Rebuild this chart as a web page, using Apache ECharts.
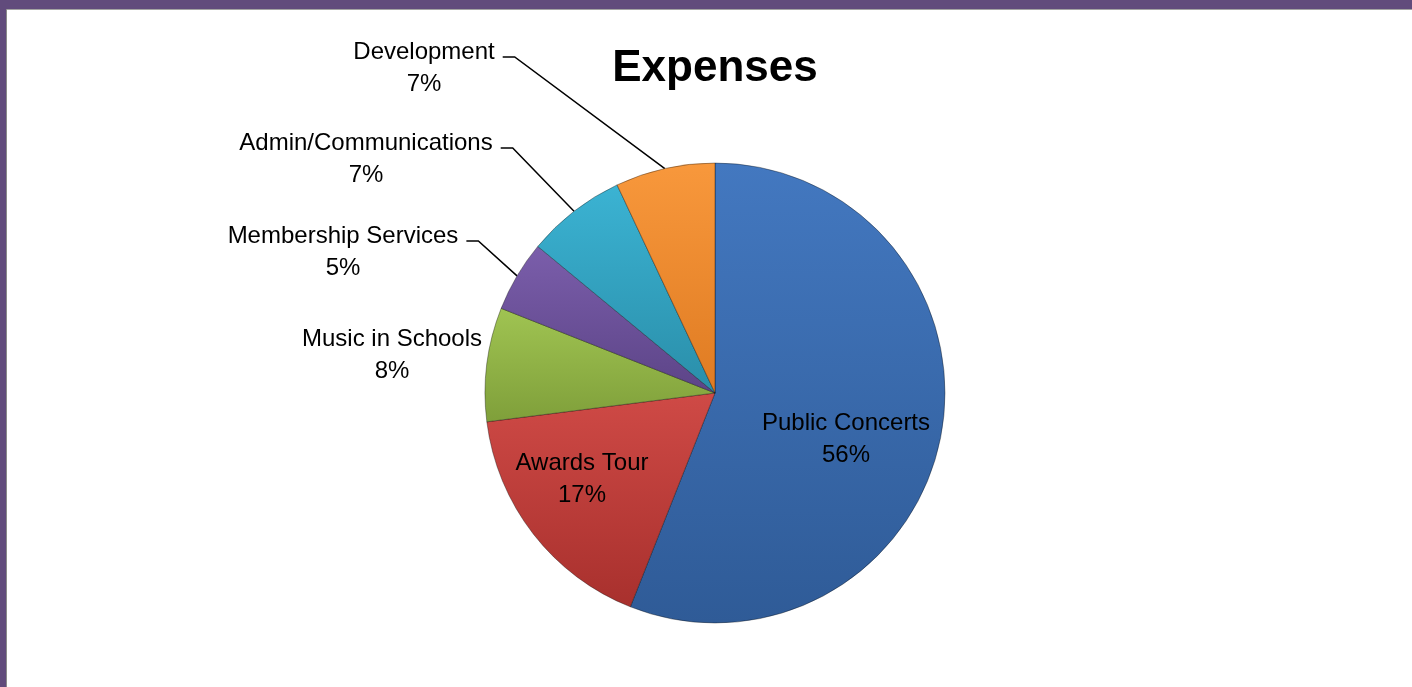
<!DOCTYPE html>
<html><head><meta charset="utf-8">
<script src="https://cdn.jsdelivr.net/npm/echarts@6.0.0/dist/echarts.min.js"></script>
<style>
html,body{margin:0;padding:0;background:#fff;overflow:hidden;}
#chart{position:absolute;left:0;top:0;width:1412px;height:687px;}
.b{position:absolute;pointer-events:none;}
</style></head><body>
<div id="chart"></div>
<div class="b" style="left:0;top:0;width:1412px;height:9px;background:#614b7c"></div>
<div class="b" style="left:6px;top:9px;width:1406px;height:1px;background:#a3a3a3"></div>
<div class="b" style="left:0;top:0;width:6px;height:687px;background:#614b7c"></div>
<div class="b" style="left:6px;top:9px;width:1px;height:678px;background:#8a8a8a"></div>
<script>
// ---- data ----
const categories = ['Public Concerts', 'Awards Tour', 'Music in Schools', 'Membership Services', 'Admin/Communications', 'Development'];
const values = [56, 17, 8, 5, 7, 7];
const titleText = 'Expenses';

// ---- styling / label placement ----
const colorPairs = [
  ['#4378c0', '#2f5b97'],
  ['#cf4a46', '#a8302d'],
  ['#a0c452', '#7f9f3a'],
  ['#7b5eab', '#5c4487'],
  ['#3bb3d3', '#2a8ea9'],
  ['#f8983c', '#df7b22']
];
const labelCenters = [[846, 439], [582, 479], [392, 355], [343, 252], [366, 159], [424, 68]];
const labelPlacement = ['inside', 'inside', 'outside', 'outside', 'outside', 'outside'];
const withLeader = [false, false, false, true, true, true];

function grad(i) {
  const c = colorPairs[i];
  return { type: 'linear', x: 0, y: 0, x2: 0, y2: 1,
    colorStops: [{ offset: 0, color: c[0] }, { offset: 1, color: c[1] }] };
}

const chart = echarts.init(document.getElementById('chart'));
chart.setOption({
  animation: false,
  backgroundColor: '#ffffff',
  title: {
    text: titleText, left: 710, top: 42, textAlign: 'center',
    textStyle: { fontFamily: 'Liberation Sans', fontWeight: 'bold', fontSize: 44, color: '#000' }
  },
  series: [{
    type: 'pie',
    center: [715, 393],
    radius: 230,
    startAngle: 90,
    clockwise: true,
    avoidLabelOverlap: false,
    percentPrecision: 0,
    itemStyle: { borderColor: 'rgba(0,0,0,0.35)', borderWidth: 1 },
    label: {
      formatter: '{b}\n{d}%', fontFamily: 'Liberation Sans', fontSize: 24,
      lineHeight: 32, color: '#000'
    },
    labelLine: { lineStyle: { color: '#000', width: 1.5 }, length: 10, length2: 10 },
    data: categories.map((n, i) => ({
      name: n, value: values[i],
      itemStyle: { color: grad(i) },
      label: { position: labelPlacement[i] },
      labelLine: { show: withLeader[i] }
    })),
    labelLayout: function (p) {
      const i = p.dataIndex;
      const c = labelCenters[i];
      const out = { x: c[0], y: c[1], align: 'center', verticalAlign: 'middle' };
      if (withLeader[i] && p.labelLinePoints && p.labelLinePoints[0]) {
        const w = p.labelRect.width;
        const xr = c[0] + w / 2 + 8;
        const ly = c[1] - 11;
        out.labelLinePoints = [p.labelLinePoints[0].slice(), [xr + 12, ly], [xr, ly]];
      }
      return out;
    }
  }]
});
</script>
</body></html>
